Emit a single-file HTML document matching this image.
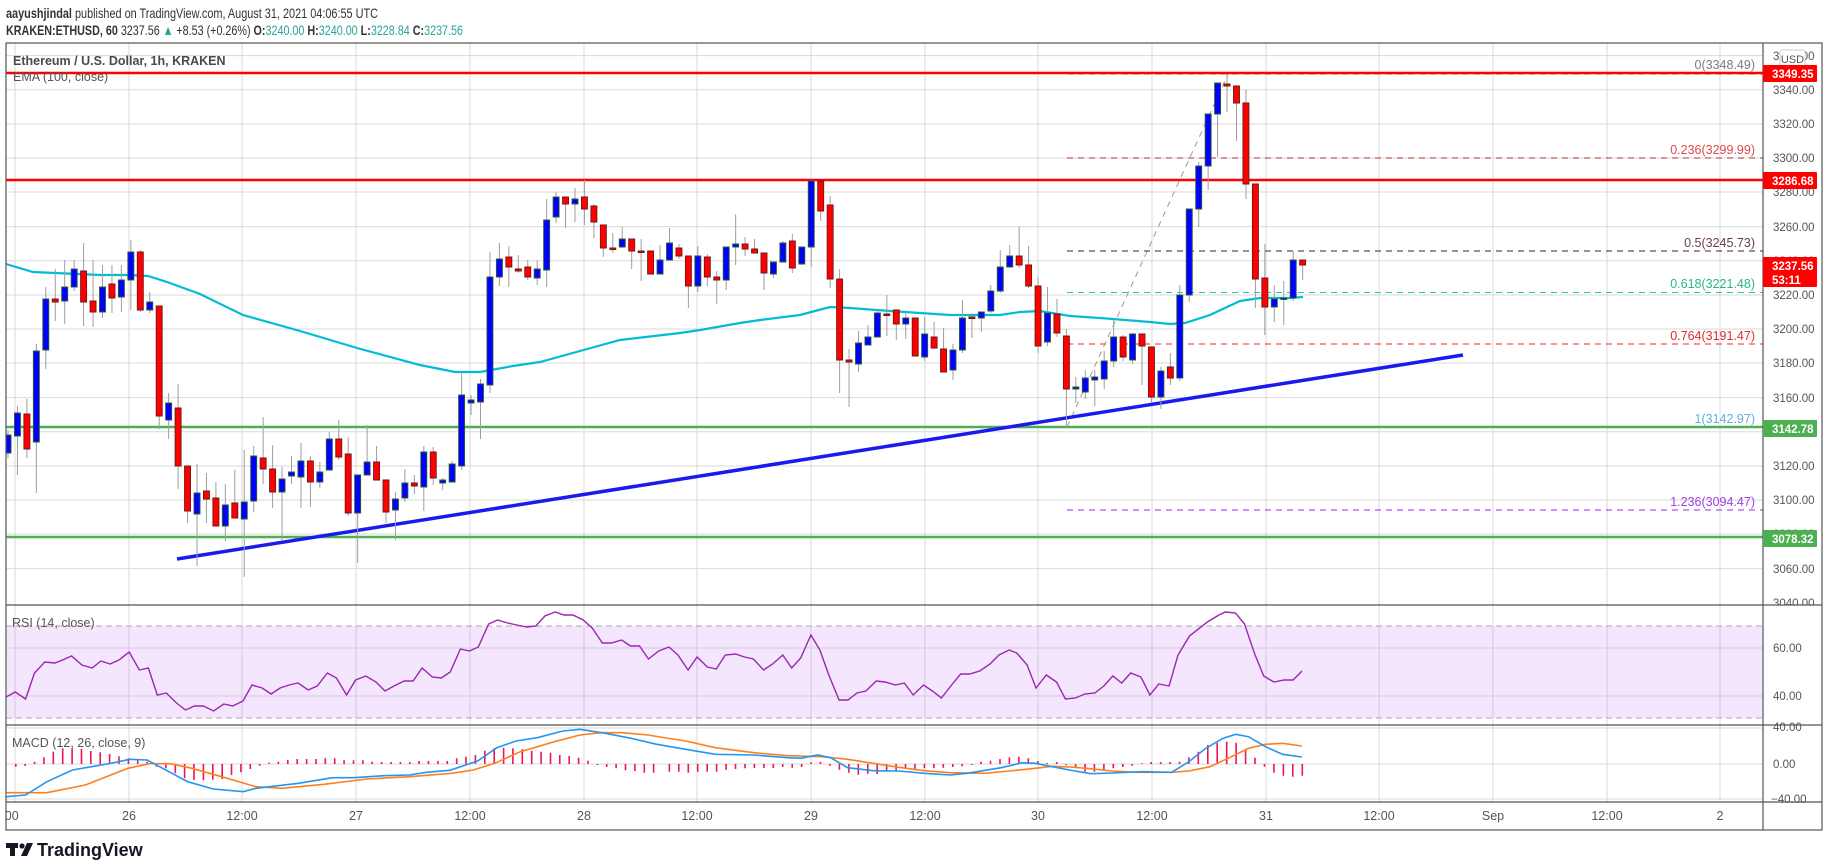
<!DOCTYPE html>
<html><head><meta charset="utf-8"><style>
html,body{margin:0;padding:0;background:#fff;width:1828px;height:867px;overflow:hidden}
svg{display:block;font-family:"Liberation Sans",sans-serif}
</style></head><body>
<svg width="1828" height="867" viewBox="0 0 1828 867" xmlns="http://www.w3.org/2000/svg">
<rect width="1828" height="867" fill="#fff"/>
<defs><clipPath id="cp"><rect x="6" y="43" width="1757" height="562"/></clipPath>
<clipPath id="cpr"><rect x="6" y="605" width="1757" height="120"/></clipPath>
<clipPath id="cpm"><rect x="6" y="725" width="1757" height="77"/></clipPath>
<clipPath id="cpt"><rect x="6" y="802" width="1757" height="28"/></clipPath>
<clipPath id="cpa"><rect x="1763" y="43" width="59" height="562"/></clipPath></defs>
<!-- grid -->
<g stroke="#d9d9d9" stroke-width="1">
<path d="M15 43V802M129 43V802M242 43V802M356 43V802M470 43V802M584 43V802M697 43V802M811 43V802M925 43V802M1038 43V802M1152 43V802M1266 43V802M1379 43V802M1493 43V802M1607 43V802M1720 43V802"/>
<path d="M6 55.6H1763M6 89.8H1763M6 124H1763M6 158H1763M6 192H1763M6 226.6H1763M6 260.8H1763M6 295H1763M6 329H1763M6 363H1763M6 397.6H1763M6 431.8H1763M6 466H1763M6 500H1763M6 534H1763M6 568.6H1763M6 728H1763M6 764H1763M6 799H1763"/>
</g>
<rect x="6" y="626" width="1757" height="92" fill="#f3e6fd"/>
<g stroke="#d3c6de"><path d="M6 648H1763M6 696H1763M15 626V718M129 626V718M242 626V718M356 626V718M470 626V718M584 626V718M697 626V718M811 626V718M925 626V718M1038 626V718M1152 626V718M1266 626V718M1379 626V718M1493 626V718M1607 626V718M1720 626V718"/></g>
<line x1="6" y1="626" x2="1763" y2="626" stroke="#b0a8b8" stroke-dasharray="6,4"/>
<line x1="6" y1="718" x2="1763" y2="718" stroke="#b0a8b8" stroke-dasharray="6,4"/>
<g clip-path="url(#cp)">
<line x1="6" y1="427" x2="1763" y2="427" stroke="#4caf50" stroke-width="2.5"/>
<line x1="6" y1="537" x2="1763" y2="537" stroke="#4caf50" stroke-width="2.5"/>
<line x1="1067" y1="74" x2="1763" y2="74" stroke="#787b86" stroke-dasharray="6,5"/>
<line x1="1067" y1="158" x2="1763" y2="158" stroke="#b33030" stroke-dasharray="6,5"/>
<line x1="1067" y1="251" x2="1763" y2="251" stroke="#4a1a3a" stroke-dasharray="6,5"/>
<line x1="1067" y1="292.5" x2="1763" y2="292.5" stroke="#26c6a0" stroke-dasharray="6,5"/>
<line x1="1067" y1="344" x2="1763" y2="344" stroke="#ff2020" stroke-dasharray="6,5"/>
<line x1="1067" y1="510" x2="1763" y2="510" stroke="#a020f0" stroke-dasharray="6,5"/>
<line x1="1067" y1="427" x2="1228" y2="74" stroke="#999" stroke-dasharray="6,5"/>
<line x1="6" y1="73" x2="1763" y2="73" stroke="#ff0000" stroke-width="2.5"/>
<line x1="6" y1="180" x2="1763" y2="180" stroke="#ff0000" stroke-width="2.5"/>
<path fill="none" stroke="#00bcd4" stroke-width="2.2" d="M6 264L33 272L100 275L130 275L148 276L167 282L200 294L243 315L300 331L357 348L420 365L455 372L480 372L513 366L540 362L580 351L620 340L680 333L700 330L740 323L760 320L800 315L830 307L850 308L890 311L950 315L1000 315L1020 312L1040 311L1070 316L1100 318L1150 322L1170 324L1185 323L1210 315L1240 301L1260 298L1290 298L1303 297"/>
<line x1="177" y1="559" x2="1463" y2="355" stroke="#1a1aee" stroke-width="3.5"/>
<!-- wicks -->
<path stroke="#9e9e9e" stroke-width="1" fill="none" d="M8 430V458M17.45 406V475M26.9 399V458M36.35 344V493M45.8 287V369M55.25 269V321M64.7 260V324M74.15 260V291M83.6 243V326M93.05 260V327M102.5 265V318M111.95 265V313M121.4 265V312M130.85 240V310M140.3 250V312M149.75 292V313M159.2 306V429M168.65 393V439M178.1 384V489M187.55 466V523M197 464V566M206.45 473V523M215.9 482V526M225.35 484V541M234.8 470V518M244.25 450V577M253.7 446V512M263.15 417V484M272.6 445V508M282.05 467V541M291.5 456V484M300.95 443V508M310.4 456V507M319.85 462V488M329.3 432V470M338.75 420V460M348.2 437V516M357.65 475V563M367.1 425V475M376.55 446V480M386 480V523M395.45 492V540M404.9 469V502M414.35 475V494M423.8 446V511M433.25 447V485M442.7 478V490M452.15 461V482M461.6 372V470M471.05 395V415M480.5 379V439M489.95 252V393M499.4 243V286M508.85 246V287M518.3 255V273M527.75 260V280M537.2 260V285M546.65 199V287M556.1 192V223M565.55 197V228M575 188V222M584.45 180V225M593.9 204V238M603.35 225V257M612.8 233V253M622.25 227V248M631.7 239V269M641.15 239V281M650.6 251V274M660.05 245V274M669.5 228V260M678.95 244V259M688.4 256V308M697.85 246V292M707.3 254V286M716.75 271V304M726.2 247V290M735.65 214V265M745.1 237V256M754.55 239V253M764 253V290M773.45 262V278M782.9 241V262M792.35 234V273M801.8 247V265M811.25 181V267M820.7 181V221M830.15 196V288M839.6 269V393M849.05 349V407M858.5 331V372M867.95 325V345M877.4 310V337M886.85 295V336M896.3 310V340M905.75 312V339M915.2 318V356M924.65 317V361M934.1 322V349M943.55 328V372M953 344V380M962.45 300V353M971.9 313V338M981.35 312V332M990.8 285V313M1000.25 250V293M1009.7 245V267M1019.15 227V268M1028.6 246V288M1038.05 277V353M1047.5 287V346M1056.95 299V337M1066.4 329V427M1075.85 377V403M1085.3 370V399M1094.75 370V406M1104.2 351V389M1113.65 320V367M1123.1 335V361M1132.55 333V364M1142 334V385M1151.45 347V403M1160.9 367V409M1170.35 353V385M1179.8 285V381M1189.25 209V302M1198.7 162V227M1208.15 114V190M1217.6 83V157M1227.05 74V112M1236.5 86V141M1245.95 90V199M1255.4 184V308M1264.85 244V335M1274.3 285V322M1283.75 281V325M1293.2 251V301M1302.65 260V280"/>
<!-- blue bodies -->
<path fill="#0000ff" stroke="#2e5d34" stroke-width="0.9" d="M5 435h6V453h-6zM14.45 413h6V436h-6zM33.35 351h6V442h-6zM42.8 299h6V350h-6zM61.7 287h6V301h-6zM71.15 269h6V287h-6zM99.5 287h6V312h-6zM118.4 280h6V297h-6zM127.85 252h6V280h-6zM146.75 302h6V310h-6zM165.65 403h6V420h-6zM194 493h6V514h-6zM222.35 505h6V526h-6zM241.25 502h6V519h-6zM250.7 456h6V501h-6zM279.05 479h6V492h-6zM288.5 472h6V476h-6zM297.95 461h6V477h-6zM316.85 472h6V482h-6zM326.3 439h6V470h-6zM354.65 475h6V513h-6zM364.1 462h6V475h-6zM392.45 499h6V510h-6zM401.9 483h6V498h-6zM420.8 452h6V487h-6zM439.7 480h6V483h-6zM449.15 464h6V482h-6zM458.6 395h6V466h-6zM468.05 400h6V403h-6zM477.5 384h6V402h-6zM486.95 277h6V385h-6zM496.4 259h6V277h-6zM534.2 269h6V278h-6zM543.65 220h6V270h-6zM553.1 197h6V217h-6zM572 199h6V204h-6zM619.25 239h6V247h-6zM657.05 260h6V274h-6zM666.5 243h6V260h-6zM694.85 256h6V286h-6zM723.2 247h6V280h-6zM732.65 244h6V247h-6zM770.45 262h6V274h-6zM779.9 243h6V262h-6zM798.8 247h6V264h-6zM808.25 181h6V247h-6zM855.5 343h6V364h-6zM864.95 337h6V345h-6zM874.4 313h6V337h-6zM902.75 318h6V324h-6zM921.65 334h6V357h-6zM950 350h6V370h-6zM959.45 318h6V350h-6zM978.35 312h6V318h-6zM987.8 291h6V311h-6zM997.25 267h6V291h-6zM1006.7 256h6V267h-6zM1044.5 313h6V342h-6zM1072.85 387h6V389h-6zM1082.3 378h6V392h-6zM1091.75 377h6V380h-6zM1101.2 361h6V379h-6zM1110.65 337h6V361h-6zM1129.55 334h6V360h-6zM1157.9 371h6V397h-6zM1176.8 295h6V378h-6zM1186.25 209h6V295h-6zM1195.7 166h6V209h-6zM1205.15 114h6V166h-6zM1214.6 83h6V114h-6zM1271.3 299h6V307h-6zM1280.75 298h6V299.5h-6zM1290.2 260h6V298h-6z"/>
<!-- red bodies -->
<path fill="#ff0000" stroke="#6a1a1a" stroke-width="0.9" d="M23.9 414h6V449h-6zM52.25 299h6V302h-6zM80.6 271h6V302h-6zM90.05 301h6V312h-6zM108.95 284h6V298h-6zM137.3 252h6V310h-6zM156.2 306h6V416h-6zM175.1 408h6V466h-6zM184.55 466h6V511h-6zM203.45 491h6V499h-6zM212.9 498h6V526h-6zM231.8 503h6V518h-6zM260.15 458h6V469h-6zM269.6 469h6V492h-6zM307.4 461h6V482h-6zM335.75 439h6V457h-6zM345.2 454h6V513h-6zM373.55 462h6V480h-6zM383 480h6V512h-6zM411.35 483h6V486h-6zM430.25 452h6V478h-6zM505.85 257h6V267h-6zM515.3 269h6V271h-6zM524.75 267h6V277h-6zM562.55 197h6V204h-6zM581.45 197h6V209h-6zM590.9 206h6V222h-6zM600.35 225h6V248h-6zM609.8 248h6V249.5h-6zM628.7 239h6V251h-6zM638.15 251h6V252.5h-6zM647.6 251h6V274h-6zM675.95 248h6V256h-6zM685.4 256h6V286h-6zM704.3 257h6V277h-6zM713.75 277h6V280h-6zM742.1 244h6V249h-6zM751.55 249h6V253h-6zM761 253h6V273h-6zM789.35 241h6V268h-6zM817.7 181h6V211h-6zM827.15 205h6V279h-6zM836.6 279h6V360h-6zM846.05 360h6V362h-6zM883.85 314h6V315.5h-6zM893.3 310h6V324h-6zM912.2 318h6V356h-6zM931.1 337h6V348h-6zM940.55 349h6V372h-6zM968.9 317h6V318.5h-6zM1016.15 256h6V265h-6zM1025.6 265h6V286h-6zM1035.05 286h6V346h-6zM1053.95 314h6V333h-6zM1063.4 336h6V389h-6zM1120.1 337h6V357h-6zM1139 334h6V346h-6zM1148.45 347h6V397h-6zM1167.35 367h6V378h-6zM1224.05 84h6V86h-6zM1233.5 86h6V103h-6zM1242.95 103h6V184h-6zM1252.4 184h6V279h-6zM1261.85 278h6V307h-6zM1299.65 260h6V265h-6z"/>
</g>
<!-- RSI -->
<g clip-path="url(#cpr)">
<path fill="none" stroke="#9c27b0" stroke-width="1.4" d="M6 697L15.3 692L25.6 699L34.5 673L44.8 662L55 663L62.7 660L71.6 656L81.9 665L92.1 668L101 661L110 664L118.9 660L129.2 652L139.4 670L148.4 668L157.3 695L166.3 693L176.5 703L185.5 710L194.4 706L203.4 706L213.6 711L223.8 704L232.8 706L243 701L252 685L262.2 688L271.1 694L280.1 688L289.1 685L298 683L308.2 690L317.2 686L327.4 673L336.4 678L346.6 695L355.6 680L365.8 676L376 682L385 691L393.9 686L404.2 681L413.1 681L422.1 668L432.3 677L441.3 678L450.2 672L460.4 649L469.4 651L478.3 647L488.6 624L497.5 620L507.8 623L516.7 625L527 627L535.9 626L544.9 616L555.1 612L564 615L573 615L583.2 620L592.2 628L602.4 643L611.4 643L621.6 640L630.5 646L639.5 646L648.5 659L658.7 651L669 647L677.9 655L688.1 670L697.1 657L707.3 667L716.3 669L725.3 655L735.5 654L744.4 657L753.4 659L763.6 670L772.6 664L782.8 655L791.7 668L800.7 658L810.9 635L819.9 650L828.8 675L839.1 700L848 700L857 693L865.9 691L876.2 681L885.1 682L895.3 685L904.3 683L913.2 695L923.5 685L932.4 691L941.4 698L951.6 685L960.6 674L969.5 674L979.8 671L990 664L999 655L1009.2 650L1016.8 653L1027.1 665L1036 688L1046.3 675L1056.5 682L1065.4 699L1075.7 698L1084.6 694L1094.9 693L1103.8 686L1112.8 676L1121.7 683L1130.7 673L1140.9 677L1149.9 695L1158.8 684L1169.1 686L1178 655L1189.5 636L1207.4 622L1218.9 615L1225.3 612L1235.5 613L1244.5 624L1254.7 654L1263.7 676L1273.9 682L1284.1 680L1293.1 680L1302 671"/>
</g>
<!-- MACD -->
<g clip-path="url(#cpm)">
<path stroke="#f0135a" stroke-width="1.6" fill="none" d="M15.8 764V766.7M25.2 764V766M34.6 764V761.7M43.9 764V757.3M53.3 764V751.7M62.7 764V748.3M72.1 764V748.3M81.5 764V749M90.8 764V751M100.2 764V752.3M109.6 764V754M119 764V756.3M128.4 764V758.3M137.7 764V760.3M147.1 764V761.7M156.5 764V766.7M165.9 764V768.3M175.3 764V773.3M184.6 764V778.3M194 764V780M203.4 764V780.3M212.8 764V779.7M222.2 764V779M231.5 764V775M240.9 764V772.3M250.3 764V769M259.7 764V765.7M269.1 764V762.7M278.4 764V761.7M287.8 764V760M297.2 764V759M306.6 764V759M316 764V759M325.3 764V758.3M334.7 764V758.3M344.1 764V760.3M353.5 764V760.3M362.9 764V760.3M372.2 764V761.7M381.6 764V762M391 764V762M400.4 764V762M409.8 764V762M419.1 764V761M428.5 764V761M437.9 764V761M447.3 764V761M456.7 764V758.3M466 764V756.7M475.4 764V755M484.8 764V750.7M494.2 764V748.3M503.6 764V747.7M512.9 764V748.3M522.3 764V749.3M531.7 764V750.7M541.1 764V751.7M550.5 764V752.7M559.8 764V755M569.2 764V756M578.6 764V757.7M588 764V760.7M597.4 764V765M606.7 764V767M616.1 764V768.3M625.5 764V770.3M634.9 764V771M644.3 764V772.7M653.6 764V772.7M669.4 764V771.7M678.8 764V771.7M688.3 764V772.7M697.7 764V771.7M707.2 764V771.7M716.6 764V771.7M726.1 764V769.7M735.5 764V769M745 764V768.3M754.4 764V768M763.9 764V768M773.3 764V768M782.7 764V767M792.2 764V767.7M801.6 764V767M811.1 764V762.3M820.5 764V761.7M830 764V765.7M839.4 764V769.7M848.9 764V772.7M858.3 764V774.7M867.8 764V773.7M877.2 764V774M886.6 764V771M896.1 764V771M905.5 764V769M915 764V769M924.4 764V768.3M933.9 764V768.3M943.3 764V767.7M952.8 764V767M962.2 764V766.3M971.7 764V765M981.1 764V761.7M990.5 764V760.7M1000 764V759M1009.4 764V757.3M1018.9 764V756.7M1028.3 764V758.3M1037.8 764V761M1047.2 764V763M1056.7 764V762M1066.1 764V765.3M1075.6 764V767M1085 764V771.7M1094.4 764V771.7M1103.9 764V769.7M1113.3 764V768.3M1122.8 764V767M1132.2 764V765.7M1141.7 764V763.3M1151.1 764V762M1160.6 764V762M1170 764V762M1179.5 764V761.7M1188.9 764V757.3M1198.3 764V751.7M1207.8 764V745M1217.2 764V742.7M1226.7 764V741.7M1236.1 764V742.7M1245.6 764V749M1255 764V757.7M1264.5 764V766.7M1273.9 764V772.7M1283.4 764V775.7M1292.8 764V776.7M1302.3 764V775.7"/>
<path fill="none" stroke="#ff7f1e" stroke-width="1.6" d="M6 792.7L46.9 792.7L85.3 785L127.9 768.3L149.3 763.7L170.6 763.7L191.9 768.3L221.7 776.7L255.9 786.7L281.4 788.3L324.1 784.3L366.7 779L409.4 776.7L452 773.3L473.3 770L494.7 763.3L520.3 751.7L554.4 741.7L580 735L601.3 732.7L622.6 732.7L648.2 735L660 737L685.6 741L715.4 747.7L753.8 752.7L787.9 755.7L822 756.7L847.6 759.3L873.2 763.3L898.8 767.3L924.4 770.7L950 772.7L984.1 773.3L1009.7 771L1035.3 768.3L1052.3 766.3L1069.4 767L1086.4 768.3L1112 771L1137.6 772.3L1171.7 772.3L1188.8 771L1210.1 766.7L1231.4 756.7L1248.5 748.3L1265.5 744.3L1282.6 743.3L1301.8 746"/>
<path fill="none" stroke="#2196f3" stroke-width="1.6" d="M6 796.7L25.6 795L46.9 781.7L72.5 770L110.9 763.3L130.1 759.3L147.1 760L157.8 765.7L187.6 781.7L213.2 789L243.1 791.7L255.9 788.3L298.5 783.3L332.6 777.7L353.9 777.7L383.8 775.7L409.4 775L426.4 772.3L449.9 770.3L477.6 761L496.8 747.7L516 741L537.3 737.7L562.9 731L580 729.3L605.5 733.3L631.1 738.3L656.7 744.3L685.6 749.3L715.4 754.3L753.8 755L787.9 757.7L800.7 758.3L817.8 755L830.6 757.7L847.6 767.7L873.2 770.7L898.8 771L924.4 773.3L950 775L967 773.3L1001.2 767.7L1022.5 762.7L1035.3 763.3L1052.3 766.7L1069.4 770L1090.7 773.7L1112 773L1141.9 771.7L1171.7 772.3L1188.8 761.7L1205.8 748.3L1222.9 738.3L1235.7 734.3L1248.5 736.7L1265.5 746.7L1282.6 754.3L1301.8 757"/>
</g>
<!-- fib labels -->
<g font-size="12.5" text-anchor="end">
<text x="1755" y="69" fill="#787b86">0(3348.49)</text>
<text x="1755" y="154" fill="#e04848">0.236(3299.99)</text>
<text x="1755" y="247" fill="#6b3a55">0.5(3245.73)</text>
<text x="1755" y="288" fill="#2bb58c">0.618(3221.48)</text>
<text x="1755" y="340" fill="#e02d2d">0.764(3191.47)</text>
<text x="1755" y="423" fill="#64aee0">1(3142.97)</text>
<text x="1755" y="506" fill="#a040e0">1.236(3094.47)</text>
</g>
<g font-size="12.5">
<text x="13" y="65" font-weight="bold" fill="#4a4a4a">Ethereum / U.S. Dollar, 1h, KRAKEN</text>
<text x="13" y="81" fill="#555">EMA (100, close)</text>
<text x="12" y="627" fill="#555">RSI (14, close)</text>
<text x="12" y="747" fill="#555">MACD (12, 26, close, 9)</text>
</g>
<g fill="none" stroke="#555" stroke-width="1.2">
<rect x="6" y="43" width="1816" height="787"/>
<line x1="1763" y1="43" x2="1763" y2="830"/>
<line x1="6" y1="605" x2="1822" y2="605"/>
<line x1="6" y1="725" x2="1822" y2="725"/>
<line x1="6" y1="802" x2="1822" y2="802"/>
</g>
<g font-size="11.5" fill="#555" clip-path="url(#cpa)">
<text x="1773" y="60">3360.00</text><text x="1773" y="94">3340.00</text><text x="1773" y="128">3320.00</text><text x="1773" y="162">3300.00</text><text x="1773" y="196">3280.00</text><text x="1773" y="231">3260.00</text><text x="1773" y="265">3240.00</text><text x="1773" y="299">3220.00</text><text x="1773" y="333">3200.00</text><text x="1773" y="367">3180.00</text><text x="1773" y="402">3160.00</text><text x="1773" y="436">3140.00</text><text x="1773" y="470">3120.00</text><text x="1773" y="504">3100.00</text><text x="1773" y="538">3080.00</text><text x="1773" y="573">3060.00</text><text x="1773" y="607">3040.00</text>
</g>
<g font-size="11.5" fill="#555">
<text x="1773" y="652">60.00</text><text x="1773" y="700">40.00</text>
<text x="1773" y="731">40.00</text><text x="1773" y="768">0.00</text><text x="1771" y="803">−40.00</text>
</g>
<rect x="1780" y="50" width="25" height="17" rx="2" fill="#fff" stroke="#ccc"/>
<text x="1792.5" y="63" font-size="11" fill="#555" text-anchor="middle">USD</text>
<g font-size="11.5" font-weight="bold" fill="#fff">
<rect x="1763" y="65" width="54" height="17" rx="1" fill="#ff0000"/><text x="1772" y="78">3349.35</text>
<rect x="1763" y="172" width="54" height="17" rx="1" fill="#ff0000"/><text x="1772" y="185">3286.68</text>
<rect x="1763" y="257" width="54" height="30" rx="1" fill="#ff0000"/><text x="1772" y="270">3237.56</text><text x="1772" y="284">53:11</text>
<rect x="1763" y="420" width="54" height="17" rx="1" fill="#4caf50"/><text x="1772" y="433">3142.78</text>
<rect x="1763" y="530" width="54" height="17" rx="1" fill="#4caf50"/><text x="1772" y="543">3078.32</text>
</g>
<g font-size="12.5" fill="#555" text-anchor="middle" clip-path="url(#cpt)">
<text x="3" y="820">12:00</text><text x="129" y="820">26</text><text x="242" y="820">12:00</text><text x="356" y="820">27</text><text x="470" y="820">12:00</text><text x="584" y="820">28</text><text x="697" y="820">12:00</text><text x="811" y="820">29</text><text x="925" y="820">12:00</text><text x="1038" y="820">30</text><text x="1152" y="820">12:00</text><text x="1266" y="820">31</text><text x="1379" y="820">12:00</text><text x="1493" y="820">Sep</text><text x="1607" y="820">12:00</text><text x="1720" y="820">2</text>
</g>
<text x="6" y="18" font-size="14" fill="#333" textLength="372" lengthAdjust="spacingAndGlyphs"><tspan font-weight="bold">aayushjindal</tspan> published on TradingView.com, August 31, 2021 04:06:55 UTC</text>
<text x="6" y="35" font-size="14" fill="#333" textLength="457" lengthAdjust="spacingAndGlyphs"><tspan font-weight="bold">KRAKEN:ETHUSD, 60</tspan> 3237.56 <tspan fill="#26a69a">▲</tspan> +8.53 (+0.26%) <tspan font-weight="bold">O:</tspan><tspan fill="#26a69a">3240.00</tspan> <tspan font-weight="bold">H:</tspan><tspan fill="#26a69a">3240.00</tspan> <tspan font-weight="bold">L:</tspan><tspan fill="#26a69a">3228.84</tspan> <tspan font-weight="bold">C:</tspan><tspan fill="#26a69a">3237.56</tspan></text>
<g fill="#131722">
<rect x="6" y="843" width="12" height="5"/><rect x="10" y="843" width="5" height="13"/>
<circle cx="22" cy="846" r="2.6"/><path d="M27 843 L33 843 L27 856 L21 856 Z"/>
</g>
<text x="37" y="856" font-size="18" font-weight="bold" fill="#131722">TradingView</text>
</svg>
</body></html>
